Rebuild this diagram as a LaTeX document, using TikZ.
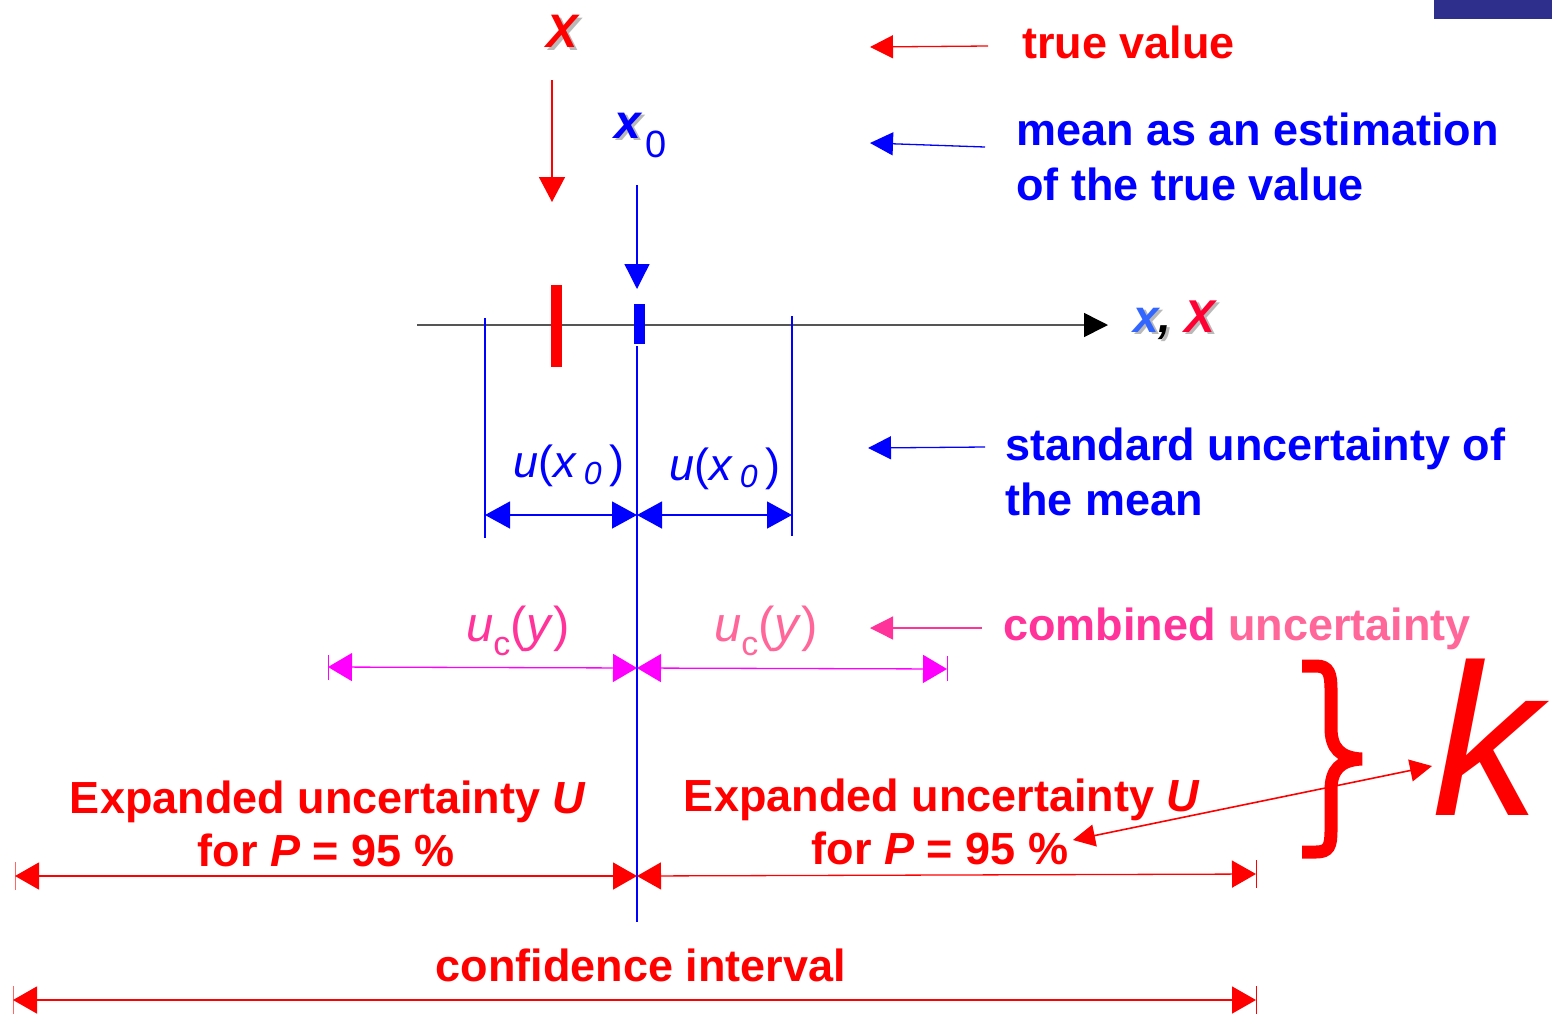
\documentclass[tikz,border=0pt]{standalone}
\usepackage{fontspec}
\setmainfont{Liberation Sans}
\usetikzlibrary{arrows.meta}
\definecolor{myred}{HTML}{FF0000}
\definecolor{xred}{HTML}{FF0033}
\definecolor{myblue}{HTML}{0000FF}
\definecolor{lightblue}{HTML}{3366FF}
\definecolor{pinkA}{HTML}{FF3399}
\definecolor{pinkB}{HTML}{FF6699}
\definecolor{magentaC}{HTML}{FF00FF}
\definecolor{navy}{HTML}{2E2E8C}
\definecolor{axisgray}{HTML}{555555}
\tikzset{
  lbl/.style={inner sep=0pt, font=\fontsize{45}{54}\selectfont\bfseries},
  ulbl/.style={inner sep=0pt, font=\fontsize{45}{50}\selectfont\itshape},
  dimblue/.style={draw=myblue, line width=1.3pt, {Triangle[length=25pt,width=27pt]}-{Triangle[length=25pt,width=27pt]}},
  dimmag/.style={draw=magentaC, line width=1.3pt, {Triangle[length=24pt,width=28pt]}-{Triangle[length=24pt,width=28pt]}},
  dimred/.style={draw=myred, line width=1.3pt, {Triangle[length=24pt,width=27pt]}-{Triangle[length=24pt,width=27pt]}},
  pointer/.style={line width=1.3pt, -{Triangle[length=23pt,width=23pt]}},
  tick/.style={line width=0.8pt},
}
\begin{document}
\begin{tikzpicture}[x=1pt,y=-1pt]
\useasboundingbox (0,0) rectangle (1552,1013);
% slide artifact
\fill[navy] (1434,0) rectangle (1552,19);

% true value symbol X
\node[inner sep=0pt, text=gray!55, anchor=base, font=\fontsize{47}{50}\selectfont\bfseries\itshape] (Xsh) at (565,50) {X};
\node[inner sep=0pt, text=myred, anchor=base, font=\fontsize{47}{50}\selectfont\bfseries\itshape] (Xtop) at (562,47) {X};
\coordinate (Xa) at (552,80);
\coordinate (Xb) at (552,202);
\draw[myred, line width=1.5pt, -{Triangle[length=25pt,width=26pt]}] (Xa) -- (Xb);

% x0
\node[inner sep=0pt, anchor=base west, text=gray!55, font=\fontsize{48}{50}\selectfont\bfseries\itshape] (xsh) at (617,140) {x};
\node[inner sep=0pt, anchor=base west, text=myblue, font=\fontsize{48}{50}\selectfont\bfseries\itshape] (xtop) at (614,138) {x};
\node[inner sep=0pt, anchor=base west, text=myblue, font=\fontsize{38}{40}\selectfont] (xzero) at (645,157) {0};
\coordinate (x0a) at (637,185);
\coordinate (x0b) at (637,289);
\draw[myblue, line width=1.3pt, -{Triangle[length=25pt,width=25pt]}] (x0a) -- (x0b);

% axis
\coordinate (axL) at (417,325);
\coordinate (axR) at (1108,325);
\draw[axisgray, line width=1.5pt, -{Triangle[length=24pt,width=24pt,black]}] (axL) -- (axR);
\node[inner sep=0pt, anchor=base west, text=gray!55, font=\fontsize{46}{50}\selectfont\bfseries\itshape] (axsh) at (1136,334)
  {x, X};
\node[inner sep=0pt, anchor=base west, font=\fontsize{46}{50}\selectfont\bfseries\itshape] (axlbl) at (1133,332)
  {\textcolor{lightblue}{x}\textcolor{black}{,} \textcolor{xred}{X}};

% bars
\fill[myred] (551,285) rectangle (562,367);
\fill[myblue] (634,304) rectangle (645,344);

% vertical lines
\coordinate (cTop) at (637,346);
\coordinate (cBot) at (637,922);
\draw[myblue, line width=1.3pt] (cTop) -- (cBot);
\coordinate (lT) at (485,318);
\coordinate (lB) at (485,538);
\coordinate (rT) at (792,316);
\coordinate (rB) at (792,536);
\draw[myblue, line width=1.3pt] (lT) -- (lB);
\draw[myblue, line width=1.3pt] (rT) -- (rB);

% standard uncertainty arrows
\coordinate (u1) at (485,515);
\coordinate (u2) at (637,515);
\coordinate (u3) at (792,515);
\draw[dimblue] (u1) -- (u2);
\draw[dimblue] (u2) -- (u3);
\node[ulbl, text=myblue, anchor=base] (ul) at (569,477) {u\textup{(}x\,\raisebox{-7pt}{\fontsize{32}{32}\selectfont 0}\,\textup{)}};
\node[ulbl, text=myblue, anchor=base] (ur) at (725,480) {u\textup{(}x\,\raisebox{-7pt}{\fontsize{32}{32}\selectfont 0}\,\textup{)}};

% combined uncertainty arrows
\coordinate (c1) at (328,667);
\coordinate (c2) at (637,668);
\coordinate (c3) at (947,669);
\draw[tick, magentaC] (328,655) -- (328,680);
\draw[tick, magentaC] (947,656) -- (947,681);
\draw[dimmag] (c1) -- (c2);
\draw[dimmag] (c2) -- (c3);
\node[inner sep=0pt, font=\fontsize{49}{52}\selectfont\itshape, text=pinkA, anchor=base] (ucl) at (518,641) {u\raisebox{-14pt}{\fontsize{34}{34}\selectfont\upshape c}\textup{(}y\textup{)}};
\node[inner sep=0pt, font=\fontsize{49}{52}\selectfont\itshape, text=pinkB, anchor=base] (ucr) at (766,641) {u\raisebox{-14pt}{\fontsize{34}{34}\selectfont\upshape c}\textup{(}y\textup{)}};

% expanded uncertainty arrows
\coordinate (e1) at (15,876);
\coordinate (e2) at (637,876);
\coordinate (e3) at (1256,874);
\draw[tick, myred!60] (15,862) -- (15,890);
\draw[tick, myred] (1256,860) -- (1256,888);
\draw[dimred] (e1) -- (e2);
\draw[dimred] (e2) -- (e3);
\node[lbl, text=myred, anchor=base] (exl1) at (328,813) {Expanded uncertainty \textit{U}};
\node[lbl, text=myred, anchor=base] (exl2) at (326,866) {for \textit{P} = 95 \%};
\node[lbl, text=myred, anchor=base] (exr1) at (942,811) {Expanded uncertainty \textit{U}};
\node[lbl, text=myred, anchor=base] (exr2) at (940,864) {for \textit{P} = 95 \%};

% confidence interval
\coordinate (ci1) at (13,1000);
\coordinate (ci2) at (1256,1000);
\draw[tick, myred!60] (13,986) -- (13,1014);
\draw[tick, myred] (1256,986) -- (1256,1014);
\draw[dimred] (ci1) -- (ci2);
\node[lbl, text=myred, anchor=base] (conf) at (641,981) {confidence interval};

% brace and k
\draw[myred, line width=13pt, line join=miter]
  (1302,666) -- (1316,666) .. controls (1329,666) and (1331,674) .. (1331,690)
  -- (1331,728) .. controls (1331,748) and (1340,758) .. (1362,759)
  .. controls (1340,760) and (1331,770) .. (1331,790)
  -- (1331,830) .. controls (1331,846) and (1329,852) .. (1316,852) -- (1302,852);
\node[inner sep=0pt, anchor=base, text=myred, font=\fontsize{216}{216}\selectfont\itshape] (k) at (1486,815) {k};
\coordinate (ka) at (1073,840);
\coordinate (kb) at (1432,766);
\draw[myred, line width=1.6pt, {Triangle[length=22pt,width=22pt]}-{Triangle[length=22pt,width=22pt]}] (ka) -- (kb);

% right-hand explanations
\coordinate (p1a) at (988,46);  \coordinate (p1b) at (870,47);
\draw[pointer, myred] (p1a) -- (p1b);
\node[lbl, text=myred, anchor=base west] (tv) at (1022,58) {true value};

\coordinate (p2a) at (985,147); \coordinate (p2b) at (870,143);
\draw[pointer, myblue] (p2a) -- (p2b);
\node[lbl, text=myblue, anchor=base west] (m1) at (1016,145) {mean as an estimation};
\node[lbl, text=myblue, anchor=base west] (m2) at (1016,200) {of the true value};

\coordinate (p3a) at (985,447); \coordinate (p3b) at (868,448);
\draw[pointer, myblue] (p3a) -- (p3b);
\node[lbl, text=myblue, anchor=base west] (s1) at (1005,460) {standard uncertainty of};
\node[lbl, text=myblue, anchor=base west] (s2) at (1005,515) {the mean};

\coordinate (p4a) at (982,628); \coordinate (p4b) at (870,628);
\draw[pointer, pinkA] (p4a) -- (p4b);
\node[lbl, anchor=base west] (cu) at (1003,640) {\textcolor{pinkA}{combined} \textcolor{pinkB}{uncertainty}};
\end{tikzpicture}
\end{document}
